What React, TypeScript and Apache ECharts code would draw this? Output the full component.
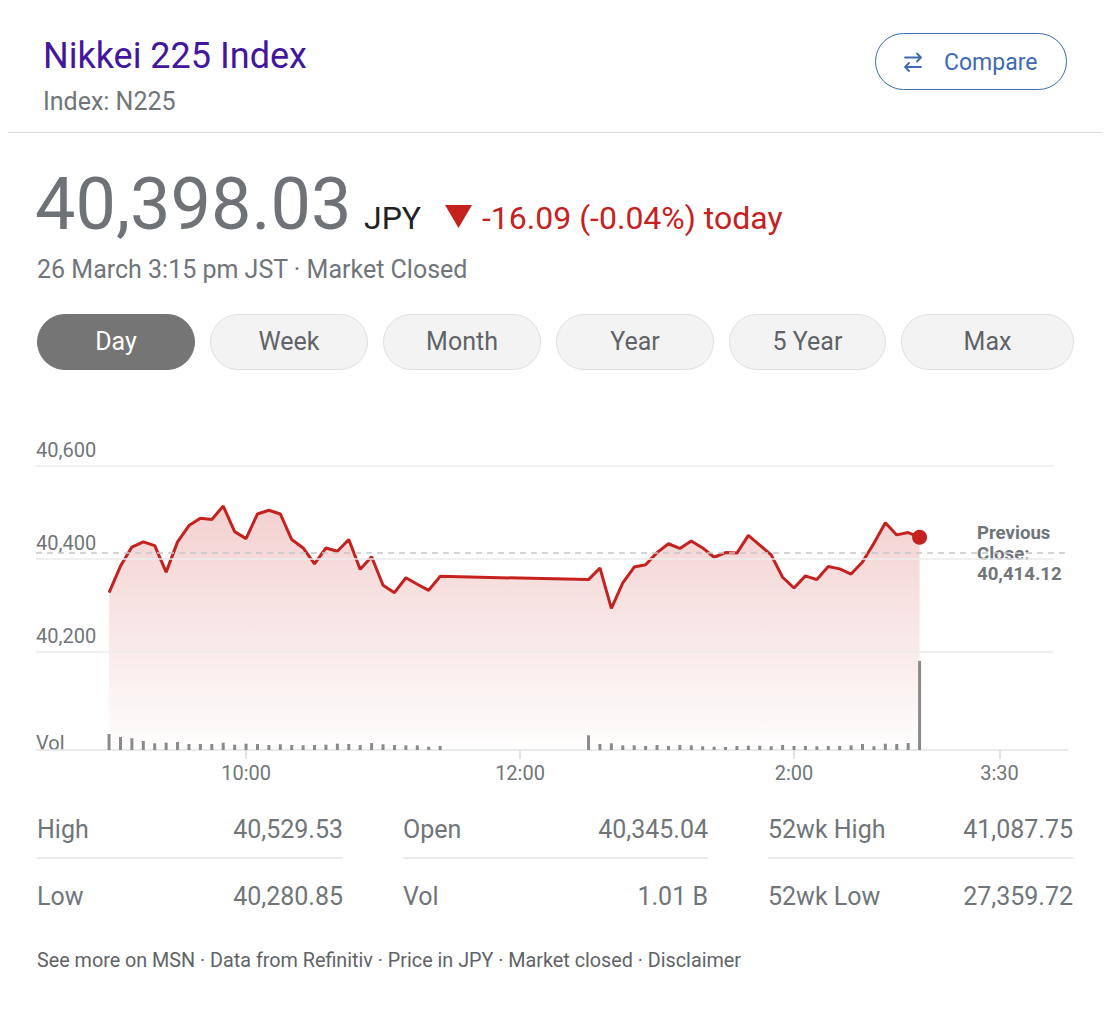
import React, { useEffect, useRef } from "react";
import * as echarts from "echarts";

// ---------- data ----------
const times = [
  "09:00", "09:05", "09:10", "09:15", "09:20", "09:25", "09:30", "09:35", "09:40", "09:45",
  "09:50", "09:55", "10:00", "10:05", "10:10", "10:15", "10:20", "10:25", "10:30", "10:35",
  "10:40", "10:45", "10:50", "10:55", "11:00", "11:05", "11:10", "11:15", "11:20", "11:25",
  "12:30", "12:35", "12:40", "12:45", "12:50", "12:55", "13:00", "13:05", "13:10", "13:15",
  "13:20", "13:25", "13:30", "13:35", "13:40", "13:45", "13:50", "13:55", "14:00", "14:05",
  "14:10", "14:15", "14:20", "14:25", "14:30", "14:35", "14:40", "14:45", "14:50", "14:55",
];
const prices = [
  40328, 40385, 40426, 40437, 40429, 40372, 40437, 40472, 40488, 40485,
  40514, 40459, 40444, 40497, 40505, 40497, 40442, 40424, 40390, 40424,
  40417, 40442, 40378, 40405, 40344, 40328, 40360, 40346, 40333, 40363,
  40356, 40381, 40294, 40349, 40383, 40388, 40414, 40433, 40423, 40439,
  40424, 40404, 40414, 40413, 40451, 40430, 40409, 40361, 40338, 40364,
  40356, 40384, 40379, 40368, 40394, 40434, 40478, 40452, 40457, 40447,
];
// volume in millions of shares
const volumes = [
  37.6, 30.6, 27.5, 21.2, 15.7, 17.2, 18.8, 14.1, 14.1, 14.1,
  17.2, 12.5, 14.8, 14.1, 11.8, 13.4, 11.8, 11.0, 11.8, 12.5,
  14.8, 14.1, 11.8, 16.5, 13.4, 11.8, 11.0, 11.0, 7.8, 9.4,
  34.5, 14.1, 15.7, 11.0, 11.0, 9.4, 11.8, 9.4, 11.8, 11.0,
  8.7, 7.8, 7.1, 9.4, 10.1, 10.1, 8.7, 11.8, 9.4, 9.4,
  8.7, 9.4, 9.4, 11.0, 14.1, 8.7, 14.8, 14.1, 16.5, 209.2,
];
const prevClose = 40414.12;
const yTickValues = [40200, 40400, 40600];
const xTickTimes = ["10:00", "12:00", "14:00", "15:30"];
const xTickLabels = ["10:00", "12:00", "2:00", "3:30"];
const rangeButtons = ["Day", "Week", "Month", "Year", "5 Year", "Max"];
const statLabels = [
  ["High", "Low"],
  ["Open", "Vol"],
  ["52wk High", "52wk Low"],
];
const statValues = [
  ["40,529.53", "40,280.85"],
  ["40,345.04", "1.01 B"],
  ["41,087.75", "27,359.72"],
];
const lastPrice = "40,398.03";
const changeText = "-16.09 (-0.04%) today";
const dateText = "26 March 3:15 pm JST \u00b7 Market Closed";
const footerText =
  "See more on MSN \u00b7 Data from Refinitiv \u00b7 Price in JPY \u00b7 Market closed \u00b7 Disclaimer";

// ---------- helpers ----------
const toMin = (t: string) => {
  const [h, m] = t.split(":").map(Number);
  return (h - 9) * 60 + m;
};
const fmt = (v: number, d = 0) =>
  v.toLocaleString("en-US", { minimumFractionDigits: d, maximumFractionDigits: d });

const RED = "#c5221f";
const GRAY = "#70757a";
const FONT = "Roboto, Arial, sans-serif";

const X_MIN = -32;
const X_MAX = 420;
const GRID_END = 414;

function PriceChart() {
  const ref = useRef<HTMLDivElement>(null);
  useEffect(() => {
    if (!ref.current) return;
    const chart = echarts.init(ref.current, undefined, { renderer: "svg" });
    const priceData = times.map((t, i) => [toMin(t), prices[i]]);
    const volData = times.map((t, i) => [toMin(t), volumes[i]]);
    const last = priceData[priceData.length - 1];
    const tickMins = xTickTimes.map(toMin);

    chart.setOption({
      animation: false,
      textStyle: { fontFamily: FONT },
      grid: { left: 36, right: 46, top: 86, bottom: 50, outerBoundsMode: "none", containLabel: false },
      xAxis: {
        type: "value",
        min: X_MIN,
        max: X_MAX,
        axisLine: { show: true, lineStyle: { color: "#e3e3e3", width: 1.5 } },
        axisTick: { show: true, customValues: tickMins, length: 9, lineStyle: { color: "#dadada", width: 1.5 } },
        axisLabel: {
          show: true,
          customValues: tickMins,
          formatter: (v: number) => xTickLabels[tickMins.indexOf(v)] ?? "",
          color: GRAY,
          fontSize: 20,
          fontFamily: FONT,
          margin: 13,
        },
        splitLine: { show: false },
      },
      yAxis: [
        {
          type: "value",
          min: 39990,
          max: 40600,
          axisLine: { show: false },
          axisTick: { show: false },
          splitLine: { show: false },
          axisLabel: {
            show: true,
            inside: true,
            customValues: yTickValues,
            formatter: (v: number) => fmt(v),
            margin: 0,
            verticalAlign: "bottom",
            lineHeight: 20,
            padding: [0, 0, 6, 0],
            color: GRAY,
            fontSize: 20,
            fontFamily: FONT,
          },
        },
        {
          type: "value",
          min: 0,
          max: 667,
          show: false,
          splitLine: { show: false },
        },
      ],
      graphic: [
        {
          type: "text",
          left: 977,
          top: 143,
          style: {
            text: `Previous\nClose:\n${fmt(prevClose, 2)}`,
            fill: GRAY,
            fontSize: 18.6,
            fontWeight: "bold",
            fontFamily: FONT,
            lineHeight: 20.5,
          },
        },
        {
          type: "text",
          left: 36,
          top: 353,
          style: { text: "Vol", fill: GRAY, fontSize: 20, fontFamily: FONT, lineHeight: 20 },
        },
      ],
      series: [
        {
          type: "line",
          data: priceData,
          yAxisIndex: 0,
          showSymbol: false,
          symbol: "none",
          z: 2,
          lineStyle: { color: RED, width: 3 },
          itemStyle: { color: RED },
          areaStyle: {
            origin: "start",
            color: {
              type: "linear",
              x: 0,
              y: 0,
              x2: 0,
              y2: 1,
              colorStops: [
                { offset: 0, color: "rgba(197,34,31,0.30)" },
                { offset: 1, color: "rgba(197,34,31,0.01)" },
              ],
            },
          },
          markLine: {
            silent: true,
            symbol: ["none", "none"],
            label: { show: false },
            animation: false,
            data: [
              ...yTickValues.map((v) => [
                { coord: [X_MIN, v], lineStyle: { color: "#ebebeb", width: 1.5, type: "solid" } },
                { coord: [GRID_END, v] },
              ]),
              [
                { coord: [X_MIN, prevClose], lineStyle: { color: "#c6c6c6", width: 1.5, type: [6, 5] } },
                { coord: [X_MAX, prevClose] },
              ],
            ],
          },
        },
        {
          type: "bar",
          data: volData,
          yAxisIndex: 1,
          barWidth: 3,
          z: 3,
          itemStyle: { color: "#8a8a8a" },
        },
        {
          type: "scatter",
          data: [last],
          yAxisIndex: 0,
          symbol: "circle",
          symbolSize: 15,
          z: 4,
          itemStyle: { color: RED, opacity: 1 },
        },
      ],
    });
    return () => chart.dispose();
  }, []);
  return (
    <div
      ref={ref}
      style={{ position: "absolute", left: 0, top: 380, width: 1114, height: 420 }}
    />
  );
}

const txt = (
  left: number,
  baseline: number,
  size: number,
  color: string,
  extra: React.CSSProperties = {}
): React.CSSProperties => ({
  position: "absolute",
  left,
  top: baseline - 0.8415 * size,
  fontSize: size,
  lineHeight: `${size}px`,
  color,
  fontFamily: FONT,
  whiteSpace: "nowrap",
  ...extra,
});

export default function App() {
  const btnLefts = [37, 210, 383, 556, 729, 901];
  const btnWidths = [158, 158, 158, 158, 157, 173];
  const colLeft = [37, 403, 768];
  const colRight = [343, 708, 1073];
  const rowBase = [838, 905];
  return (
    <div
      style={{
        position: "absolute",
        left: 0,
        top: 0,
        width: 1114,
        height: 1016,
        background: "#fff",
        fontFamily: FONT,
        overflow: "hidden",
      }}
    >
      {/* header */}
      <div style={txt(43, 68, 36, "#43169e")}>Nikkei 225 Index</div>
      <div style={txt(43, 110, 25, GRAY)}>Index: N225</div>
      <div
        style={{
          position: "absolute",
          left: 875,
          top: 33,
          width: 192,
          height: 57,
          boxSizing: "border-box",
          border: "1.2px solid #3d6bb3",
          borderRadius: 29,
        }}
      />
      <svg
        width={22}
        height={22}
        viewBox="0 0 22 22"
        style={{ position: "absolute", left: 902, top: 51 }}
      >
        <g fill="none" stroke="#3d6bb3" strokeWidth={1.8} strokeLinecap="round" strokeLinejoin="round">
          <path d="M3 6.5 H19 M15 2.5 L19 6.5 L15 10.5" />
          <path d="M19 16 H3 M7 12 L3 16 L7 20" />
        </g>
      </svg>
      <div style={txt(944, 70, 23, "#3d6bb3")}>Compare</div>
      <div
        style={{
          position: "absolute",
          left: 8,
          top: 132,
          width: 1094,
          height: 1,
          background: "#dadce0",
        }}
      />

      {/* price line */}
      <div style={txt(35, 230, 72, "#6f7378")}>{lastPrice}</div>
      <div style={txt(364, 229, 32, "#202124")}>JPY</div>
      <svg width={28} height={24} style={{ position: "absolute", left: 445, top: 205 }}>
        <polygon points="0,0 27,0 13.5,23" fill={RED} />
      </svg>
      <div style={txt(482, 229, 32, RED)}>{changeText}</div>
      <div style={txt(37, 278, 25, GRAY)}>{dateText}</div>

      {/* range buttons */}
      {rangeButtons.map((b, i) => (
        <div
          key={b}
          style={{
            position: "absolute",
            left: btnLefts[i],
            top: 314,
            width: btnWidths[i],
            height: 56,
            boxSizing: "border-box",
            borderRadius: 28,
            border: i === 0 ? "1px solid #757575" : "1px solid #e0e0e0",
            background: i === 0 ? "#757575" : "#f3f3f3",
            color: i === 0 ? "#ffffff" : "#5f6368",
            fontSize: 25,
            lineHeight: "54px",
            textAlign: "center",
            fontFamily: FONT,
          }}
        >
          {b}
        </div>
      ))}

      <PriceChart />

      {/* stats */}
      {statLabels.map((col, c) =>
        col.map((lab, r) => (
          <React.Fragment key={lab}>
            <div style={txt(colLeft[c], rowBase[r], 25, GRAY)}>{lab}</div>
            <div
              style={{
                ...txt(0, rowBase[r], 25, GRAY),
                left: undefined,
                right: 1114 - colRight[c],
                textAlign: "right",
              }}
            >
              {statValues[c][r]}
            </div>
          </React.Fragment>
        ))
      )}
      {colLeft.map((l, c) => (
        <div
          key={c}
          style={{
            position: "absolute",
            left: l,
            top: 857,
            width: colRight[c] - l,
            height: 1.5,
            background: "#ebebeb",
          }}
        />
      ))}

      <div style={txt(37, 968, 19.75, "#5f6368")}>{footerText}</div>
    </div>
  );
}
